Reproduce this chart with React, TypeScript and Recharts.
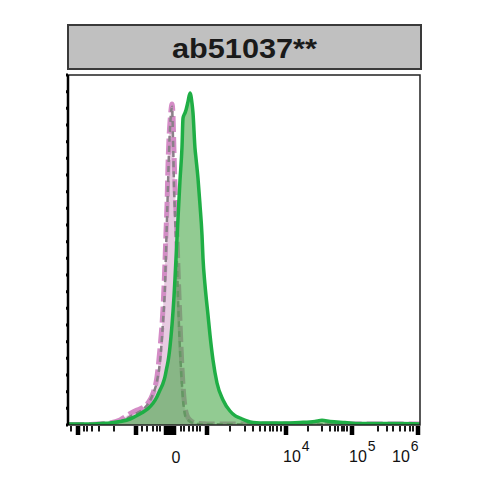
import React from 'react';
import { ComposedChart, Area, XAxis, YAxis, ReferenceArea } from 'recharts';

// display channel (biexponential scale position)
const channel = [
  0, 22, 32, 42, 52, 62, 69, 74, 80, 85,
  89, 92, 95, 97, 98, 99, 100, 101, 102, 103,
  104, 105, 106, 107, 108, 109, 110, 112, 114, 115,
  116, 117, 118, 120, 122, 124, 125, 127, 128, 130,
  132, 134, 135, 137, 140, 142, 145, 149, 155, 162,
  167, 172, 179, 185, 192, 212, 232, 247, 254, 262,
  277, 292, 312, 332, 352,
];

// ab51037 stained sample (% of max)
const sample = [
  0.3, 0.3, 0.45, 0.6, 1.05, 1.8, 2.85, 3.7, 4.9, 6.5,
  8.5, 10.5, 12.5, 14.5, 16, 17.5, 19, 21, 23.5, 26.5,
  30, 34, 38.5, 44, 50, 56, 62, 73.5, 83.4, 92,
  93, 93.6, 94.5, 97, 99.6, 96.5, 93.6, 83, 80, 74,
  66, 57, 50, 42, 33, 27, 19.5, 12.6, 7.5, 4.2,
  2.8, 2.1, 1.2, 0.75, 0.6, 0.6, 0.75, 1.05, 1.4, 1.05,
  0.75, 0.45, 0.45, 0.45, 0.3,
];

// isotype control
const isotype = [
  0.15, 0.15, 0.3, 0.6, 1.5, 3.4, 4.5, 5.1, 6.6, 9.5,
  14.5, 23, 35, 49, 58, 66, 78, 86, 91, 94.5,
  96.3, 93, 82, 72, 64, 56, 47, 31, 17, 12,
  8, 5.5, 3.8, 2.2, 1.5, 1.0, 0.9, 0.7, 0.6, 0.5,
  0.45, 0.4, 0.4, 0.35, 0.3, 0.3, 0.3, 0.3, 0.3, 0.3,
  0.3, 0.3, 0.3, 0.3, 0.3, 0.3, 0.3, 0.3, 0.3, 0.3,
  0.3, 0.3, 0.3, 0.3, 0.3,
];

// unstained control
const unstained = [
  0.1, 0.1, 0.2, 0.4, 1.0, 2.5, 3.6, 4.4, 6.3, 9.3,
  13.2, 19, 31, 42, 52, 62, 72, 82, 89, 93.5,
  95.5, 86, 72, 63, 55, 48, 38, 22.5, 12, 7.5,
  5, 3, 2.2, 1.5, 1.0, 0.7, 0.6, 0.4, 0.35, 0.3,
  0.25, 0.2, 0.2, 0.2, 0.2, 0.2, 0.2, 0.2, 0.2, 0.2,
  0.2, 0.2, 0.2, 0.2, 0.2, 0.2, 0.2, 0.2, 0.2, 0.2,
  0.2, 0.2, 0.2, 0.2, 0.2,
];

const titleText = 'ab51037**';

const majorTicks = [10, 68, 98, 102, 106, 139, 218, 284, 350];
const minorTicks = [
  3, 16, 19, 24, 31, 46, 74, 79, 85, 89, 92,
  113, 116, 121, 125, 129, 132,
  162, 177, 185, 192, 197, 202, 205, 209, 213,
  240, 254, 262, 267, 270, 274, 276, 279,
  310, 319, 325, 332, 337, 342, 345,
];
const labelTicks = [106, 218, 284, 350];
const labelBases = ['0', '10', '10', '10'];
const labelExps = ['', '4', '5', '6'];

const yTicks = [0, 5, 10, 15, 20, 25, 30, 35, 40, 45, 50, 55, 60, 65, 70, 75, 80, 85, 90, 95, 100, 105];

const data = channel.map((c, i) => ({
  ch: c,
  sample: sample[i],
  isotype: isotype[i],
  unstained: unstained[i],
}));

const allTicks = [...majorTicks, ...minorTicks].sort((a, b) => a - b);

const FONT = '"Liberation Sans", Arial, Helvetica, sans-serif';

const XTick = (props: any) => {
  const { x, payload } = props;
  const v = payload.value;
  const major = majorTicks.includes(v);
  const w = major ? 4.5 : 1.8;
  const h = major ? 9 : 5.5;
  const li = labelTicks.indexOf(v);
  let label = null;
  if (li >= 0) {
    const base = labelBases[li];
    const exp = labelExps[li];
    if (!exp) {
      label = (
        <text x={x + 2} y={463} textAnchor="middle" fontSize={16} fontFamily={FONT} fill="#111">
          {base}
        </text>
      );
    } else {
      const start = Math.min(x - 3, 392);
      label = (
        <text x={start} y={462} textAnchor="start" fontSize={16} fontFamily={FONT} fill="#111">
          <tspan>{base}</tspan>
          <tspan dx={1} dy={-11} fontSize={14}>{exp}</tspan>
        </text>
      );
    }
  }
  return (
    <g>
      <rect x={x - w / 2} y={426} width={w} height={h} fill="#000" />
      {label}
    </g>
  );
};

const YTick = () => <g />;

export default function App() {
  return (
    <div style={{ position: 'absolute', left: 0, top: 0, width: 490, height: 490, background: '#fff', fontFamily: FONT }}>
      <svg width={490} height={80} style={{ position: 'absolute', left: 0, top: 0 }}>
        <rect x={68} y={25} width={353} height={44} fill="#c0c0c0" stroke="#3a3a3a" strokeWidth={2} />
        <text
          x={244.5}
          y={57.5}
          textAnchor="middle"
          fontSize={27}
          fontWeight="bold"
          fontFamily={FONT}
          fill="#1a1a1a"
          textLength={145}
          lengthAdjust="spacingAndGlyphs"
        >
          {titleText}
        </text>
      </svg>
      <div style={{ position: 'absolute', left: 0, top: 0 }}>
        <ComposedChart width={490} height={490} data={data} margin={{ top: 75, left: 58, right: 70, bottom: 25 }}>
          <XAxis
            dataKey="ch"
            type="number"
            domain={[0, 352]}
            ticks={allTicks}
            interval={0}
            height={40}
            axisLine={false}
            tickLine={false}
            tickSize={4}
            tickMargin={2}
            tick={<XTick />}
            allowDataOverflow
          />
          <YAxis
            type="number"
            domain={[0, 105]}
            ticks={yTicks}
            interval={0}
            width={10}
            tick={<YTick />}
            tickSize={2}
            tickLine={{ stroke: '#000', strokeWidth: 3 }}
            axisLine={{ stroke: '#000', strokeWidth: 2.5 }}
            allowDataOverflow
          />
          <Area
            type="monotone"
            dataKey="isotype"
            stroke="#d48cc6"
            strokeWidth={5}
            strokeDasharray="16 5"
            fill="#eac2e2"
            fillOpacity={0.75}
            isAnimationActive={false}
            dot={false}
            activeDot={false}
          />
          <Area
            type="monotone"
            dataKey="unstained"
            stroke="#8a8088"
            strokeWidth={2.5}
            strokeDasharray="6 4"
            fill="#b0a8ae"
            fillOpacity={0.12}
            isAnimationActive={false}
            dot={false}
            activeDot={false}
          />
          <Area
            type="monotone"
            dataKey="sample"
            stroke="#1fae45"
            strokeWidth={3.5}
            fill="#4aa94a"
            fillOpacity={0.6}
            isAnimationActive={false}
            dot={false}
            activeDot={false}
          />
          <ReferenceArea x1={0} x2={352} y1={0} y2={105} fill="none" stroke="#222" strokeWidth={1.5} ifOverflow="visible" />
        </ComposedChart>
      </div>
    </div>
  );
}
